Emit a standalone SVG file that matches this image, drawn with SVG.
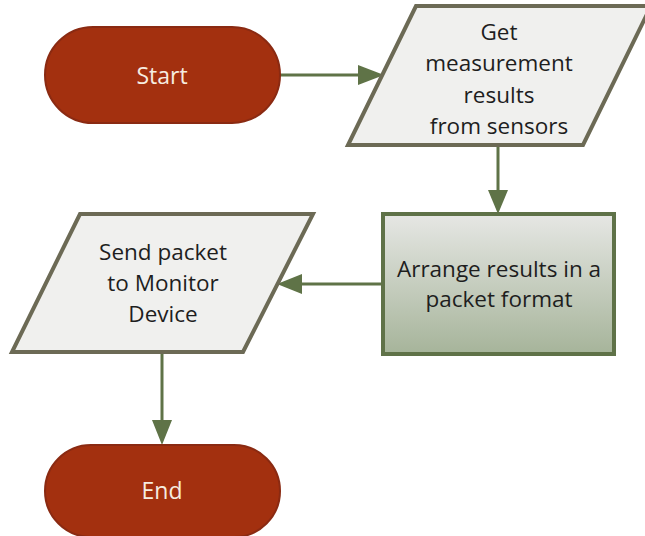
<svg xmlns="http://www.w3.org/2000/svg" width="645" height="536" viewBox="0 0 645 536">
  <defs>
    <linearGradient id="gradBox" x1="0" y1="0" x2="0" y2="1">
      <stop offset="0" stop-color="#E6E7E4"/>
      <stop offset="1" stop-color="#A6B49A"/>
    </linearGradient>
    <marker id="arrow" viewBox="0 0 10 10" refX="10" refY="5" markerWidth="8" markerHeight="8" markerUnits="userSpaceOnUse" orient="auto" overflow="visible">
      <path d="M0,0 L10,5 L0,10 z" fill="#5F7347"/>
    </marker>
    <style>
      .term { fill: #A3300F; stroke: #8A2A12; stroke-width: 2; }
      .termtext { fill: #F6ECE0; font-family: "Open Sans", "Noto Sans", sans-serif; font-size: 23px; text-anchor: middle; }
      .io { fill: #F0F0EE; stroke: #6C6A55; stroke-width: 4; stroke-linejoin: miter; }
      .proc { fill: url(#gradBox); stroke: #5F7248; stroke-width: 4; }
      .label { fill: #1E1E1E; font-family: "Open Sans", "Noto Sans", sans-serif; font-size: 22.5px; text-anchor: middle; }
      .conn { stroke: #5F7347; stroke-width: 3; fill: none; }
      .head { fill: #5F7347; }
    </style>
  </defs>
  <rect width="645" height="536" fill="#FFFFFF"/>

  <g id="connectors">
    <line class="conn" x1="280" y1="75" x2="362" y2="75"/>
    <path class="head" d="M358,65 L384,75 L358,85 z"/>
    <line class="conn" x1="498" y1="145" x2="498" y2="194"/>
    <path class="head" d="M488,190 L498,214 L508,190 z"/>
    <line class="conn" x1="383" y1="284" x2="298" y2="284"/>
    <path class="head" d="M302,274 L277,284 L302,294 z"/>
    <line class="conn" x1="162" y1="352" x2="162" y2="424"/>
    <path class="head" d="M152,420 L162,445 L172,420 z"/>
  </g>

  <g id="start">
    <rect class="term" x="45" y="27" width="235" height="96" rx="48" ry="48"/>
    <text class="termtext" x="162" y="84">Start</text>
  </g>

  <g id="get">
    <polygon class="io" points="416,6 651,6 583,145 348,145"/>
    <text class="label" x="499" y="40">Get</text>
    <text class="label" x="499" y="71">measurement</text>
    <text class="label" x="499" y="103">results</text>
    <text class="label" x="499" y="134">from sensors</text>
  </g>

  <g id="arrange">
    <rect class="proc" x="383" y="214" width="231" height="140"/>
    <text class="label" x="499" y="277">Arrange results in a</text>
    <text class="label" x="499" y="307">packet format</text>
  </g>

  <g id="send">
    <polygon class="io" points="80,214 313,214 243,352 12,352"/>
    <text class="label" x="163" y="260">Send packet</text>
    <text class="label" x="163" y="291">to Monitor</text>
    <text class="label" x="163" y="322">Device</text>
  </g>

  <g id="end">
    <rect class="term" x="45" y="445" width="235" height="92" rx="46" ry="46"/>
    <text class="termtext" x="162" y="499">End</text>
  </g>
</svg>
